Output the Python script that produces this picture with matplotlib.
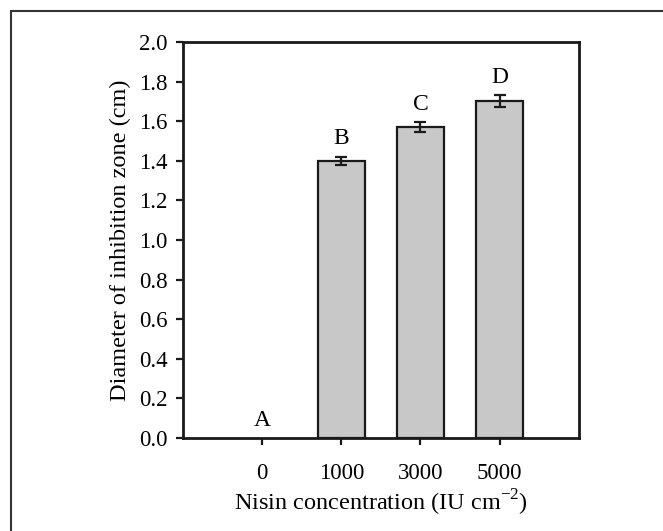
import numpy as np
import matplotlib.pyplot as plt
from matplotlib.patches import Rectangle

plt.rcParams['font.family'] = 'Liberation Serif'
plt.rcParams['mathtext.fontset'] = 'custom'
plt.rcParams['mathtext.rm'] = 'Liberation Serif'

conc = ['0', '1000', '3000', '5000']
diam = [0.0, 1.40, 1.57, 1.70]
err = [0.0, 0.02, 0.025, 0.03]
letters = ['A', 'B', 'C', 'D']

fig = plt.figure(figsize=(6.63, 5.31), dpi=100)
ax = fig.add_axes([0.276, 0.175, 0.597, 0.746])

x = np.arange(len(conc))
ax.bar(x[1:], diam[1:], width=0.6, color='#c8c8c8', edgecolor='#1a1a1a', linewidth=1.6)
ax.errorbar(x[1:], diam[1:], yerr=err[1:], fmt='none', ecolor='#1a1a1a',
            elinewidth=1.6, capsize=4, capthick=1.6)
for xi, d, e, lab in zip(x, diam, err, letters):
    ax.text(xi, d + e + 0.09, lab, ha='center', va='center', fontsize=17)

ax.set_xlim(-1, 4)
ax.set_ylim(0, 2.0)
ax.set_xticks(x)
ax.set_xticklabels(conc)
ax.set_yticks(np.arange(0, 2.01, 0.2))
ax.set_yticklabels(['%.1f' % v for v in np.arange(0, 2.01, 0.2)])
ax.tick_params(direction='out', length=5, width=1.6, labelsize=16.5, color='#1a1a1a')
ax.tick_params(axis='x', pad=13)
ax.tick_params(axis='y', pad=6)
for s in ax.spines.values():
    s.set_linewidth(2)
    s.set_color('#1a1a1a')

ax.set_ylabel('Diameter of inhibition zone (cm)', fontsize=17.5, labelpad=6)
ax.set_xlabel('Nisin concentration (IU cm$^{\\mathregular{-2}}$)', fontsize=17.5, labelpad=3)

fig.add_artist(Rectangle((11 / 663, -0.2), 2, 1.2 - 11 / 531, transform=fig.transFigure,
                         fill=False, edgecolor='#333333', linewidth=1.5))

fig.savefig('out.png', dpi=100)
